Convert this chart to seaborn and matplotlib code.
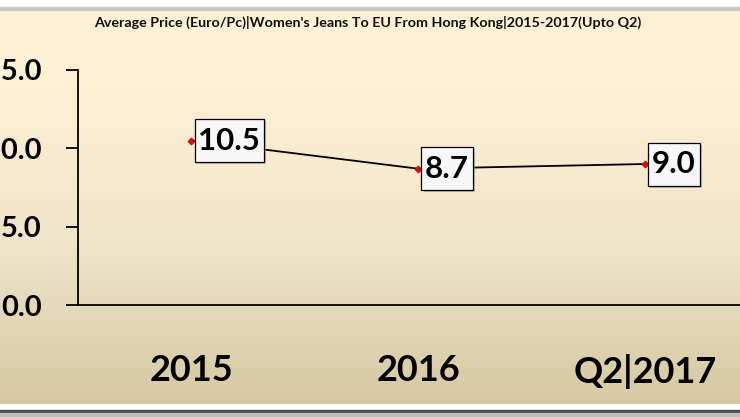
import numpy as np
import pandas as pd
import seaborn as sns
import matplotlib.pyplot as plt
import matplotlib.patheffects as pe
from matplotlib.path import Path

# data
periods = ["2015", "2016", "Q2|2017"]
avg_price = [10.5, 8.7, 9.0]
y_ticks = [0.0, 5.0, 10.0, 15.0]
title = "Average Price (Euro/Pc)|Women's Jeans To EU From Hong Kong|2015-2017(Upto Q2)"

df = pd.DataFrame({"Period": periods, "Price": avg_price})


def tall_box(x0, y0, width, height, mutation_size):
    # label box with more room above/below the text than at the sides
    px, py = 0.12 * mutation_size, 0.24 * mutation_size
    x0, y0 = x0 - px, y0 - py
    x1, y1 = x0 + width + 2 * px, y0 + height + 2 * py
    return Path([(x0, y0), (x1, y0), (x1, y1), (x0, y1), (x0, y0)], closed=True)


W, H = 740, 417
fig = plt.figure(figsize=(W / 100, H / 100), dpi=100)

# background: cream-to-tan gradient panel framed by thin grey lines
bg = fig.add_axes([0, 0, 1, 1], zorder=-5)
bg.set_xlim(0, W)
bg.set_ylim(H, 0)
bg.axis("off")
stops_y = [0.0, 0.2, 0.6, 1.0]
stops_rgb = np.array([[254, 241, 214], [255, 240, 212], [238, 228, 202], [214, 200, 162]]) / 255
t = np.linspace(0, 1, 200)
grad = np.stack([np.interp(t, stops_y, stops_rgb[:, c]) for c in range(3)], axis=-1)
grad = np.repeat(grad[:, None, :], 2, axis=1)
bg.add_patch(plt.Rectangle((0, 0), W, H, color="white", zorder=0))
bg.imshow(grad, extent=(0, W, 404, 10), aspect="auto", zorder=1, interpolation="bilinear")
bg.add_patch(plt.Rectangle((0, 7), W, 2.5, color="#c9c9c9", zorder=2))
bg.add_patch(plt.Rectangle((0, 410), W, 3, color="#4a4a4a", zorder=2))
bg.add_patch(plt.Rectangle((0, 413), W, 4, color="#bdbdbd", zorder=2))

fig.text(368 / W, 1 - 22 / H, title, ha="center", va="center",
         fontsize=10.3, fontweight="bold", family="Lato", color="#111111")

# main axes (runs past the right edge like the original screenshot)
left, right, top, bottom = 78, 758.5, 70, 305
ax = fig.add_axes([left / W, 1 - bottom / H, (right - left) / W, (bottom - top) / H])
ax.set_facecolor("none")

sns.lineplot(data=df, x="Period", y="Price", ax=ax, color="black", linewidth=1.3,
             marker="D", markersize=3.5, markerfacecolor="#d01010",
             markeredgecolor="#d01010", sort=False)

for i, v in enumerate(avg_price):
    ann = ax.annotate(f"{v:.1f}", (i, v), xytext=(5, 0), textcoords="offset points",
                      ha="left", va="center", fontsize=22.5, fontweight="bold",
                      family="Lato", color="black",
                      bbox=dict(boxstyle=tall_box, fc="#f7f7f7", ec="black", lw=0.9))
    ann.get_bbox_patch().set_path_effects(
        [pe.withSimplePatchShadow(offset=(1.5, -1.5), shadow_rgbFace="#a8a8a8", alpha=0.7)])

ax.set_xlim(-0.5, 2.5)
ax.set_ylim(0, 15)
ax.set_yticks(y_ticks)
ax.set_yticklabels([f"{v:.1f}" for v in y_ticks])
ax.set_xlabel("")
ax.set_ylabel("")
for s in ["top", "right"]:
    ax.spines[s].set_visible(False)
for s in ["left", "bottom"]:
    ax.spines[s].set_color("black")
    ax.spines[s].set_linewidth(1.3)
ax.tick_params(axis="y", length=9, width=1.3, direction="out", pad=17)
ax.tick_params(axis="x", length=0, pad=35)
for lab in ax.get_yticklabels():
    lab.set_fontsize(21)
    lab.set_fontweight("bold")
    lab.set_family("Lato")
for lab in ax.get_xticklabels():
    lab.set_fontsize(26)
    lab.set_fontweight("bold")
    lab.set_family("Lato")

fig.savefig("out.png", dpi=100)
